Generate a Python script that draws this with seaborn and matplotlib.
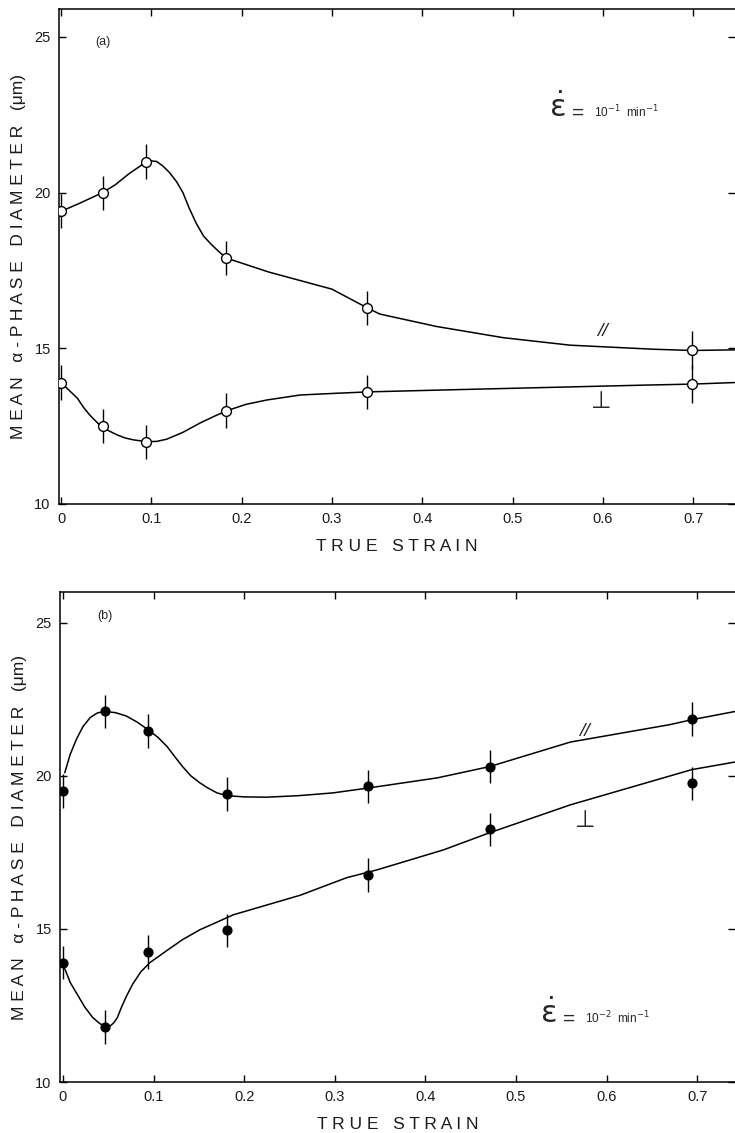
import matplotlib
matplotlib.use('Agg')
import matplotlib.pyplot as plt
import numpy as np
import seaborn as sns

# (a) strain rate 1e-1 min^-1, open circles
a_strain = [0.0, 0.046, 0.094, 0.183, 0.339, 0.699]
a_par = [19.4, 20.0, 21.0, 17.9, 16.3, 14.95]
a_perp = [13.9, 12.5, 12.0, 13.0, 13.6, 13.85]
a_err = [0.55, 0.55, 0.55, 0.55, 0.55, 0.6]

# hand-drawn trend lines of panel (a)
a_par_curve_x = [0.0, 0.02, 0.046, 0.06, 0.075, 0.094, 0.1, 0.106, 0.113, 0.12,
                 0.128, 0.135, 0.142, 0.15, 0.158, 0.166, 0.175, 0.183, 0.23, 0.30,
                 0.339, 0.353, 0.416, 0.49, 0.564, 0.656, 0.699, 0.746]
a_par_curve_y = [19.4, 19.65, 20.0, 20.25, 20.6, 20.98, 21.02, 21.0, 20.85, 20.65,
                 20.35, 20.0, 19.5, 19.0, 18.6, 18.35, 18.1, 17.9, 17.45, 16.9,
                 16.3, 16.1, 15.7, 15.34, 15.1, 14.97, 14.93, 14.95]
a_perp_curve_x = [0.0, 0.009, 0.018, 0.025, 0.032, 0.044, 0.053, 0.062, 0.071, 0.08,
                  0.095, 0.106, 0.117, 0.135, 0.154, 0.17, 0.184, 0.205, 0.228, 0.265,
                  0.301, 0.34, 0.45, 0.55, 0.65, 0.699, 0.746]
a_perp_curve_y = [13.9, 13.65, 13.4, 13.1, 12.85, 12.5, 12.35, 12.22, 12.12, 12.06,
                  12.0, 12.01, 12.08, 12.3, 12.6, 12.82, 13.0, 13.2, 13.34, 13.5,
                  13.55, 13.6, 13.68, 13.75, 13.82, 13.85, 13.9]

# (b) strain rate 1e-2 min^-1, filled circles
b_strain = [0.0, 0.046, 0.094, 0.181, 0.337, 0.471, 0.694]
b_par = [19.5, 22.1, 21.45, 19.4, 19.65, 20.3, 21.85]
b_perp = [13.9, 11.8, 14.25, 14.95, 16.75, 18.25, 19.75]
b_err = [0.55, 0.55, 0.55, 0.55, 0.55, 0.55, 0.55]

b_par_curve_x = [0.002, 0.008, 0.015, 0.022, 0.03, 0.038, 0.046, 0.058, 0.07, 0.082,
                 0.094, 0.105, 0.115, 0.124, 0.132, 0.141, 0.151, 0.16, 0.17, 0.181,
                 0.2, 0.225, 0.26, 0.298, 0.337, 0.413, 0.471, 0.56, 0.67, 0.694, 0.742]
b_par_curve_y = [20.1, 20.7, 21.2, 21.6, 21.9, 22.05, 22.1, 22.06, 21.95, 21.75,
                 21.5, 21.25, 20.95, 20.6, 20.3, 20.0, 19.77, 19.6, 19.44, 19.35,
                 19.31, 19.3, 19.35, 19.44, 19.6, 19.93, 20.3, 21.1, 21.67, 21.83, 22.1]
b_perp_curve_x = [0.002, 0.008, 0.015, 0.024, 0.033, 0.041, 0.048, 0.052, 0.056, 0.06,
                  0.064, 0.07, 0.077, 0.086, 0.096, 0.115, 0.132, 0.151, 0.17, 0.188,
                  0.225, 0.262, 0.313, 0.347, 0.42, 0.471, 0.56, 0.694, 0.742]
b_perp_curve_y = [13.7, 13.25, 12.9, 12.45, 12.1, 11.9, 11.8, 11.83, 11.93, 12.1,
                  12.4, 12.8, 13.2, 13.6, 13.9, 14.3, 14.65, 14.97, 15.22, 15.46,
                  15.78, 16.1, 16.67, 16.93, 17.58, 18.14, 19.05, 20.2, 20.45]

x_ticks = [0, 0.1, 0.2, 0.3, 0.4, 0.5, 0.6, 0.7]
x_ticklabels = ['0', '0.1', '0.2', '0.3', '0.4', '0.5', '0.6', '0.7']
y_ticks = [10, 15, 20, 25]

sns.set_theme(style='ticks')
plt.rcParams['font.family'] = ['Liberation Sans', 'DejaVu Sans']

fig = plt.figure(figsize=(7.35, 11.33), dpi=100)
ax_a = fig.add_axes([0.0803, 0.5552, 0.9197, 0.4369])
ax_b = fig.add_axes([0.0816, 0.045, 0.9184, 0.4325])

ylabel = 'M E A N   \u03b1 - P H A S E   D I A M E T E R   (\u03bcm)'
xlabel = 'T R U E   S T R A I N'


def style_axes(ax, xlim, ylim):
    ax.set_xlim(*xlim)
    ax.set_ylim(*ylim)
    ax.set_xticks(x_ticks)
    ax.set_xticklabels(x_ticklabels)
    ax.set_yticks(y_ticks)
    ax.tick_params(direction='in', length=5, width=1.0, top=True, right=True,
                   labelsize=10.5, color='black', labelcolor='#1a1a1a', pad=6)
    for side in ['left', 'bottom', 'top']:
        ax.spines[side].set_linewidth(1.1)
        ax.spines[side].set_color('black')
    ax.spines['right'].set_visible(False)
    ax.set_xlabel(xlabel, fontsize=12.5, labelpad=9, color='#1a1a1a')
    ax.set_ylabel(ylabel, fontsize=12.5, labelpad=6, color='#1a1a1a')


def draw_panel(ax, strain, par, perp, err, curves, filled):
    for cx, cy in curves:
        sns.lineplot(x=cx, y=cy, ax=ax, sort=False, estimator=None,
                     color='black', linewidth=1.1, zorder=2)
    for vals in (par, perp):
        v = np.array(vals)
        e = np.array(err)
        ax.vlines(strain, v - e, v + e, color='black', linewidth=1.0, zorder=3)
        sns.scatterplot(x=strain, y=vals, ax=ax, marker='o',
                        s=40 if filled else 50,
                        color='black' if filled else 'white',
                        edgecolor='black', linewidth=1.0, zorder=4)


def rate_label(ax, x, y, exponent):
    ax.text(x, y, r'$\dot{\mathrm{\varepsilon}}$', fontsize=22, va='center',
            fontweight='bold')
    ax.text(x + 0.026, y - 0.15, '=', fontsize=15, va='center')
    ax.text(x + 0.050, y - 0.1, r'10$^{' + exponent + r'}$  min$^{-1}$',
            fontsize=8.5, va='center')


draw_panel(ax_a, a_strain, a_par, a_perp, a_err,
           [(a_par_curve_x, a_par_curve_y), (a_perp_curve_x, a_perp_curve_y)], False)
style_axes(ax_a, (-0.0022, 0.7464), (10, 25.9))
ax_a.text(0.038, 24.85, '(a)', fontsize=9, va='center')
ax_a.text(0.600, 15.55, '//', fontsize=14, ha='center', va='center', style='italic')
ax_a.text(0.598, 13.3, '\u22a5', fontsize=17, ha='center', va='center', family=['DejaVu Sans'])
rate_label(ax_a, 0.540, 22.7, '-1')

draw_panel(ax_b, b_strain, b_par, b_perp, b_err,
           [(b_par_curve_x, b_par_curve_y), (b_perp_curve_x, b_perp_curve_y)], True)
style_axes(ax_b, (-0.0033, 0.7417), (10, 26.0))
ax_b.text(0.038, 25.2, '(b)', fontsize=9, va='center')
ax_b.text(0.576, 21.45, '//', fontsize=14, ha='center', va='center', style='italic')
ax_b.text(0.576, 18.55, '\u22a5', fontsize=17, ha='center', va='center', family=['DejaVu Sans'])
rate_label(ax_b, 0.526, 12.2, '-2')

fig.savefig('out.png', dpi=100)
